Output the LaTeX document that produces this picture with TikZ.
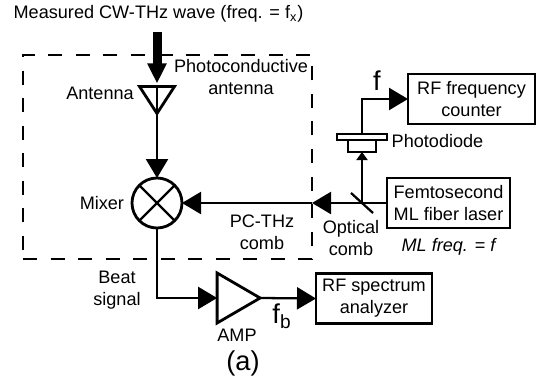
\documentclass[tikz,border=0pt]{standalone}
\usepackage{fontspec}
\setmainfont{Liberation Sans}
\usetikzlibrary{positioning,arrows.meta,shapes.geometric}

\tikzset{
    every node/.style={font=\fontsize{10.3}{12.5}\selectfont, inner sep=0pt, outer sep=0pt},
    wire/.style={line width=1.3pt},
    head/.style={-{Triangle[length=0.38cm,width=0.44cm]}},
    instrument/.style={draw, line width=1.6pt, align=center, minimum height=1.0cm},
    amptri/.style={draw, line width=1.6pt, isosceles triangle, isosceles triangle stretches},
    bigtext/.style={font=\fontsize{15.5}{18}\selectfont},
}

\begin{document}
\begin{tikzpicture}[on grid]
    \useasboundingbox (-3.14,-3.5) rectangle (7.58,4.06);

    \node[draw, circle, line width=1.6pt, minimum size=1.0cm] (mixer) {};
    \draw[wire] (mixer.north west) -- (mixer.south east);
    \draw[wire] (mixer.north east) -- (mixer.south west);
    \node[left=0.66cm of mixer, anchor=east] (mixerText) {Mixer};

    % dashed outline of the antenna
    \node[draw, line width=1.3pt, dash pattern=on 0.28cm off 0.27cm, minimum width=5.78cm, minimum height=4.08cm,
        above right=0.92cm and 0.21cm of mixer] (pcBox) {};

    \node[above=3.78cm of mixer, xshift=0.03cm] (measuredText) {Measured CW-THz wave (freq. = f\textsubscript{x})};
    \coordinate[above=3.42cm of mixer] (waveIn);
    \node[amptri, shape border rotate=-90, minimum width=0.7cm, minimum height=0.54cm, above=2.14cm of mixer] (antenna) {};
    \node[above left=2.2cm and 1.14cm of mixer] (antennaText) {Antenna};
    \node[above right=2.52cm and 1.68cm of mixer, align=center] (pcaText) {Photoconductive\\antenna};

    \node[instrument, minimum width=2.46cm, align=center, right=5.83cm of mixer] (laser) {Femtosecond\\ML fiber laser};
    \node[below=0.87cm of laser] (mlText) {\itshape ML freq. = f};
    \coordinate[right=4.1cm of mixer] (split);
    \coordinate[above left=0.2cm and 0.22cm of split] (mirrorA);
    \coordinate[below right=0.2cm and 0.22cm of split] (mirrorB);
    \node[below right=0.58cm and 2.1cm of mixer, align=center] (combText) {PC-THz\\comb};
    \node[below left=0.7cm and 0.22cm of split, anchor=center, align=center] (opticalText) {Optical\\comb};
    \coordinate[right=3.1cm of mixer] (combMid);

    \node[draw, line width=1.3pt, minimum width=0.56cm, minimum height=0.24cm, above=1.14cm of split, anchor=center] (diode) {};
    \node[draw, line width=1.3pt, minimum width=1.0cm, minimum height=0.12cm, above=0.18cm of diode] (window) {};
    \node[above right=1.24cm and 1.51cm of split, anchor=center] (diodeText) {Photodiode};

    \node[instrument, minimum width=2.54cm, above right=2.08cm and 6.29cm of mixer] (counter) {RF frequency\\counter};
    \node[instrument, minimum width=2.32cm, below right=1.91cm and 4.34cm of mixer] (analyzer) {RF spectrum\\analyzer};
    \node[amptri, minimum width=1.0cm, minimum height=0.86cm, below right=1.9cm and 1.49cm of mixer] (amp) {};
    \node[below right=2.64cm and 1.6cm of mixer] (ampText) {AMP};
    \node[below left=1.74cm and 0.8cm of mixer, align=center] (beatText) {Beat\\signal};
    \node[bigtext, below right=3.2cm and 1.72cm of mixer] (caption) {(a)};
    \node[bigtext, above right=2.44cm and 4.4cm of mixer] (fText) {f};
    \node[bigtext, below right=2.26cm and 2.5cm of mixer] (fbText) {f\textsubscript{b}};

    \draw[line width=0.18cm, -{Triangle[length=0.4cm,width=0.36cm]}, shorten >=0.06cm] (waveIn) -- (antenna.lower side);
    \draw[wire] (antenna.lower side) -- (antenna.apex);
    \draw[wire, head] (antenna.apex) -- (mixer.north);
    \draw[wire, head] (laser.west) -- (combMid);
    \draw[wire, head] (combMid) -- (mixer.east);
    \draw[wire] (mirrorA) -- (mirrorB);
    \draw[wire, -{Triangle[length=0.16cm,width=0.22cm]}] (split) -- (diode.south);
    \draw[wire, head] (window.north) |- (counter.west);
    \draw[wire, head] (mixer.south) |- (amp.west);
    \draw[wire, head] (amp.apex) -- (analyzer.west);
\end{tikzpicture}
\end{document}
